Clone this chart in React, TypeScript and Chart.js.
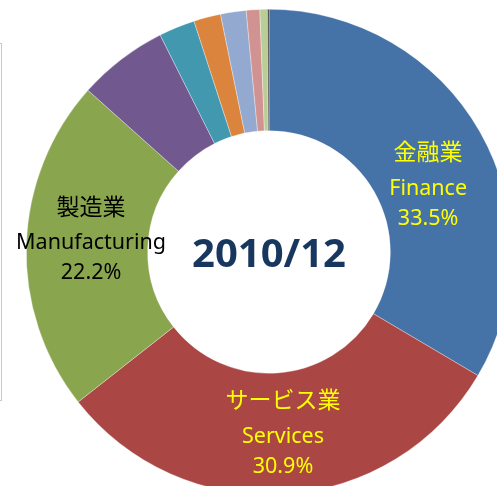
import React, { useEffect, useRef } from "react";
import { Chart, registerables } from "chart.js";

Chart.register(...registerables);

const categoriesJa = ["金融業", "サービス業", "製造業", "その他A", "その他B", "その他C", "その他D", "その他E", "その他F", "その他G"];
const categoriesEn = ["Finance", "Services", "Manufacturing", "Other A", "Other B", "Other C", "Other D", "Other E", "Other F", "Other G"];
const shares = [33.5, 30.9, 22.2, 6.0, 2.4, 1.8, 1.7, 0.9, 0.5, 0.1];
const labelled = [true, true, true, false, false, false, false, false, false, false];
const centerTitle = "2010/12";

const sliceColors = ["#4572A7", "#AA4643", "#89A54E", "#71588F", "#4198AF", "#DB843D", "#93A9CF", "#D19392", "#B9CD96", "#3a3a3a"];
const labelColors = ["#FFFF00", "#FFFF00", "#000000"];
const labelNudge = [
  [1, 23],
  [2, -1],
  [4, -7],
];
const lineOffsets = [-31, 4, 34];

const FONT = "'Noto Sans', 'Noto Sans CJK JP', sans-serif";

const labelPlugin = {
  id: "sliceLabels",
  afterDatasetsDraw(chart: any) {
    const ctx = chart.ctx;
    const meta = chart.getDatasetMeta(0);
    ctx.save();
    meta.data.forEach((arc: any, i: number) => {
      if (!labelled[i]) return;
      const p = arc.getProps(["x", "y", "startAngle", "endAngle", "innerRadius", "outerRadius"], true);
      const a = (p.startAngle + p.endAngle) / 2;
      const r = (p.innerRadius + p.outerRadius) / 2;
      const nudge = labelNudge[i] || [0, 0];
      const cx = p.x + Math.cos(a) * r + nudge[0];
      const cy = p.y + Math.sin(a) * r + nudge[1];
      ctx.fillStyle = labelColors[i];
      ctx.textAlign = "center";
      ctx.textBaseline = "middle";
      const lines = [categoriesJa[i], categoriesEn[i], shares[i].toFixed(1) + "%"];
      lines.forEach((t, k) => {
        ctx.font = k === 0 ? `23px ${FONT}` : `21.5px ${FONT}`;
        ctx.fillText(t, cx, cy + lineOffsets[k]);
      });
    });
    const first = meta.data[0];
    if (first) {
      ctx.fillStyle = "#17375E";
      ctx.font = `bold 40px ${FONT}`;
      ctx.textAlign = "center";
      ctx.textBaseline = "middle";
      ctx.fillText(centerTitle, first.x, first.y + 4);
    }
    ctx.restore();
  },
};

export default function App() {
  const ref = useRef<HTMLCanvasElement | null>(null);
  useEffect(() => {
    if (!ref.current) return;
    const chart = new Chart(ref.current, {
      type: "doughnut",
      data: {
        labels: categoriesEn,
        datasets: [
          {
            data: shares,
            backgroundColor: sliceColors,
            borderColor: "rgba(255,255,255,0.55)",
            borderWidth: 0.6,
          },
        ],
      },
      options: {
        responsive: false,
        animation: false,
        devicePixelRatio: 1,
        cutout: "50%",
        layout: { padding: 9 },
        plugins: {
          legend: { display: false },
          tooltip: { enabled: false },
          title: { display: false },
        },
      },
      plugins: [labelPlugin],
    });
    return () => chart.destroy();
  }, []);
  return (
    <div style={{ position: "fixed", left: 0, top: 0, width: 497, height: 486, overflow: "hidden", background: "#fff" }}>
      <div
        style={{
          position: "absolute",
          left: -100,
          top: 43,
          width: 102,
          height: 358,
          border: "1px solid #c8c8c8",
          boxSizing: "border-box",
        }}
      />
      <canvas ref={ref} width={538} height={504} style={{ position: "absolute", left: 0, top: 0, width: 538, height: 504 }} />
    </div>
  );
}
